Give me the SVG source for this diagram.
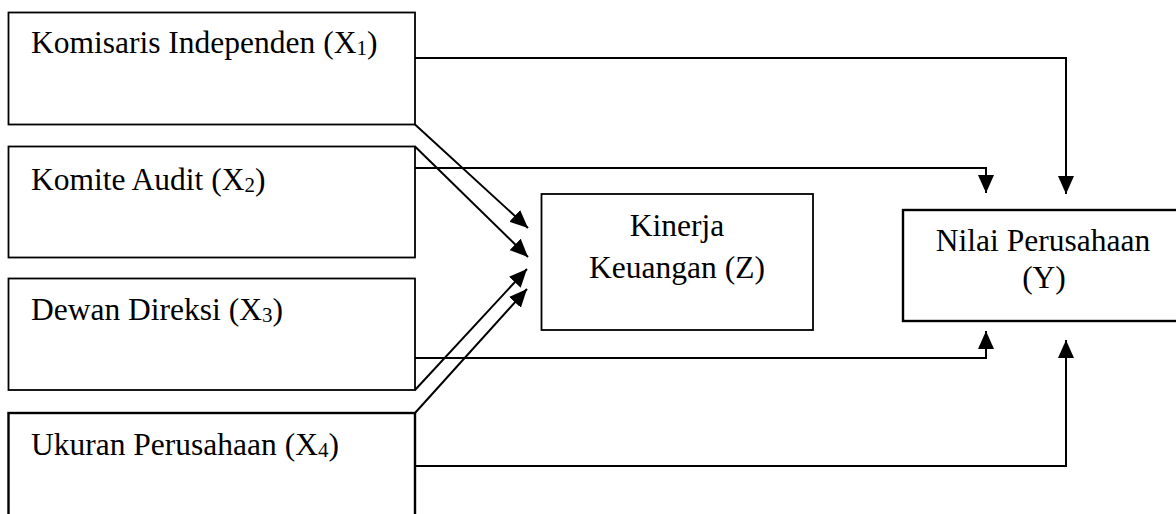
<svg xmlns="http://www.w3.org/2000/svg" width="1176" height="514" viewBox="0 0 1176 514">
<defs>
<style>
.box{fill:#fff;stroke:#000;stroke-width:1.8}
.thick{stroke-width:2.4}
.t{font-family:"Liberation Serif","Times New Roman",serif;font-size:31.5px;fill:#000}
.sub{font-size:21px}
.c{fill:none;stroke:#000;stroke-width:2}
</style>
<marker id="ah" markerUnits="userSpaceOnUse" markerWidth="18" markerHeight="16" refX="18" refY="8" orient="auto">
<path d="M0,0 L18,8 L0,16 z" fill="#000"/>
</marker>
</defs>
<rect width="1176" height="514" fill="#fff"/>
<g id="x1">
<rect class="box" x="8.5" y="12.5" width="406.5" height="112"/>
<text class="t" x="31" y="53">Komisaris Independen (X<tspan class="sub" dy="2">1</tspan><tspan dy="-2">)</tspan></text>
</g>
<g id="x2">
<rect class="box" x="8.5" y="146.5" width="406.5" height="111"/>
<text class="t" x="31" y="190">Komite Audit (X<tspan class="sub" dy="2">2</tspan><tspan dy="-2">)</tspan></text>
</g>
<g id="x3">
<rect class="box" x="8.5" y="278.5" width="406.5" height="111.5"/>
<text class="t" x="31" y="320">Dewan Direksi (X<tspan class="sub" dy="2">3</tspan><tspan dy="-2">)</tspan></text>
</g>
<g id="x4">
<rect class="box thick" x="8.5" y="413" width="406.5" height="130"/>
<text class="t" x="31" y="455">Ukuran Perusahaan (X<tspan class="sub" dy="2">4</tspan><tspan dy="-2">)</tspan></text>
</g>
<g id="z">
<rect class="box" x="541.5" y="194" width="271.5" height="136"/>
<text class="t" x="677" y="236" text-anchor="middle">Kinerja</text>
<text class="t" x="677" y="278" text-anchor="middle">Keuangan (Z)</text>
</g>
<g id="y">
<rect class="box thick" x="903" y="210" width="290" height="111"/>
<text class="t" x="1043" y="251" text-anchor="middle">Nilai Perusahaan</text>
<text class="t" x="1044" y="288" text-anchor="middle">(Y)</text>
</g>
<g id="connectors">
<polyline class="c" points="415,58 1066,58 1066,194" marker-end="url(#ah)"/>
<polyline class="c" points="415,168 986,168 986,193" marker-end="url(#ah)"/>
<polyline class="c" points="415,358 986,358 986,331" marker-end="url(#ah)"/>
<polyline class="c" points="415,466 1066,466 1066,340" marker-end="url(#ah)"/>
<line class="c" x1="415" y1="124.5" x2="528" y2="228" marker-end="url(#ah)"/>
<line class="c" x1="415" y1="146.5" x2="528" y2="257" marker-end="url(#ah)"/>
<line class="c" x1="415" y1="390" x2="527" y2="269" marker-end="url(#ah)"/>
<line class="c" x1="415" y1="413" x2="527" y2="289" marker-end="url(#ah)"/>
</g>
</svg>
